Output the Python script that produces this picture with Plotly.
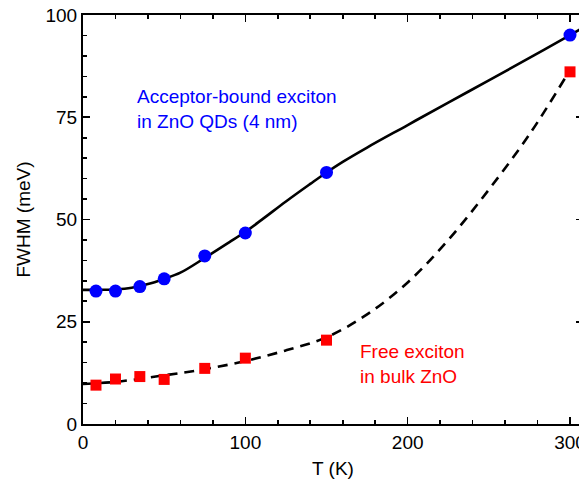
import plotly.graph_objects as go

# Measured data
T_qd = [8, 20, 35, 50, 75, 100, 150, 300]
fwhm_qd = [32.5, 32.5, 33.6, 35.5, 41.1, 46.7, 61.5, 95.1]

T_bulk = [8, 20, 35, 50, 75, 100, 150, 300]
fwhm_bulk = [9.5, 11.0, 11.6, 10.9, 13.6, 16.1, 20.5, 86.1]

# Fit curves
T_fit_qd = [0, 10, 20, 30, 40, 50, 60, 75, 90, 100, 110, 125, 140, 150, 160, 175,
            200, 225, 250, 275, 300, 308]
fwhm_fit_qd = [32.8, 32.8, 32.9, 33.3, 34.2, 35.5, 37.0, 40.6, 44.4, 47.0, 49.9,
               54.4, 58.7, 61.5, 64.1, 67.6, 73.1, 78.6, 84.0, 89.5, 95.1, 96.9]

T_fit_bulk = [0, 20, 50, 75, 100, 125, 150, 175, 200, 225, 250, 275, 297]
fwhm_fit_bulk = [9.8, 10.3, 11.9, 13.4, 15.4, 18.0, 21.2, 26.8, 34.6, 45.0, 57.3,
                 70.8, 84.6]

# Axes
X_RANGE = [0, 308]
Y_RANGE = [0, 100]
x_ticks = [0, 100, 200, 300]
y_ticks = [0, 25, 50, 75, 100]

FONT = "Arial, Liberation Sans, sans-serif"
FS = 19

fig = go.Figure()
fig.add_trace(go.Scatter(x=T_fit_qd, y=fwhm_fit_qd, mode="lines",
                         line=dict(color="black", width=2.6, shape="spline"),
                         showlegend=False, hoverinfo="skip"))
fig.add_trace(go.Scatter(x=T_fit_bulk, y=fwhm_fit_bulk, mode="lines",
                         line=dict(color="black", width=2.6, shape="spline", dash="10px,7px"),
                         showlegend=False, hoverinfo="skip"))
fig.add_trace(go.Scatter(x=T_qd, y=fwhm_qd, mode="markers",
                         marker=dict(symbol="circle", size=13, color="#0000ff"),
                         showlegend=False, cliponaxis=False))
fig.add_trace(go.Scatter(x=T_bulk, y=fwhm_bulk, mode="markers",
                         marker=dict(symbol="square", size=11, color="#ff0000"),
                         showlegend=False, cliponaxis=False))

ann_font_blue = dict(family=FONT, size=FS, color="#0000ff")
ann_font_red = dict(family=FONT, size=FS, color="#ff0000")
fig.add_annotation(x=32, y=80, text="Acceptor-bound exciton", showarrow=False,
                   xanchor="left", yanchor="middle", font=ann_font_blue)
fig.add_annotation(x=32, y=73.9, text="in ZnO QDs (4 nm)", showarrow=False,
                   xanchor="left", yanchor="middle", font=ann_font_blue)
fig.add_annotation(x=169.5, y=17.7, text="Free exciton", showarrow=False,
                   xanchor="left", yanchor="middle", font=ann_font_red)
fig.add_annotation(x=169.5, y=11.6, text="in bulk ZnO", showarrow=False,
                   xanchor="left", yanchor="middle", font=ann_font_red)

axis_common = dict(showline=True, linecolor="black", linewidth=2, mirror="ticks",
                   ticks="inside", ticklen=7, tickwidth=1.6, tickcolor="black",
                   showgrid=False, zeroline=False, automargin=False,
                   ticklabeloverflow="allow", layer="above traces",
                   tickfont=dict(family=FONT, size=FS, color="black"))

fig.update_xaxes(range=X_RANGE, tickmode="array", tickvals=x_ticks,
                 ticktext=[str(v) for v in x_ticks],
                 minor=dict(ticks="inside", dtick=20, tick0=0, ticklen=4,
                            tickwidth=1.6, tickcolor="black"),
                 title=dict(text="T (K)", font=dict(family=FONT, size=FS, color="black"),
                            standoff=10),
                 **axis_common)
fig.update_yaxes(range=Y_RANGE, tickmode="array", tickvals=y_ticks,
                 ticktext=[str(v) for v in y_ticks],
                 minor=dict(ticks="inside", dtick=5, tick0=0, ticklen=4,
                            tickwidth=1.6, tickcolor="black"),
                 title=dict(text="FWHM (meV)", font=dict(family=FONT, size=FS, color="black"),
                            standoff=10),
                 **axis_common)

# page body has an 8px margin: compensate so the plot area lands where the reference has it
fig.update_layout(width=579, height=479,
                  margin=dict(l=75, r=4, t=7, b=63),
                  plot_bgcolor="white", paper_bgcolor="white",
                  font=dict(family=FONT))

fig.write_html("out.html", config={"staticPlot": True, "displayModeBar": False})
